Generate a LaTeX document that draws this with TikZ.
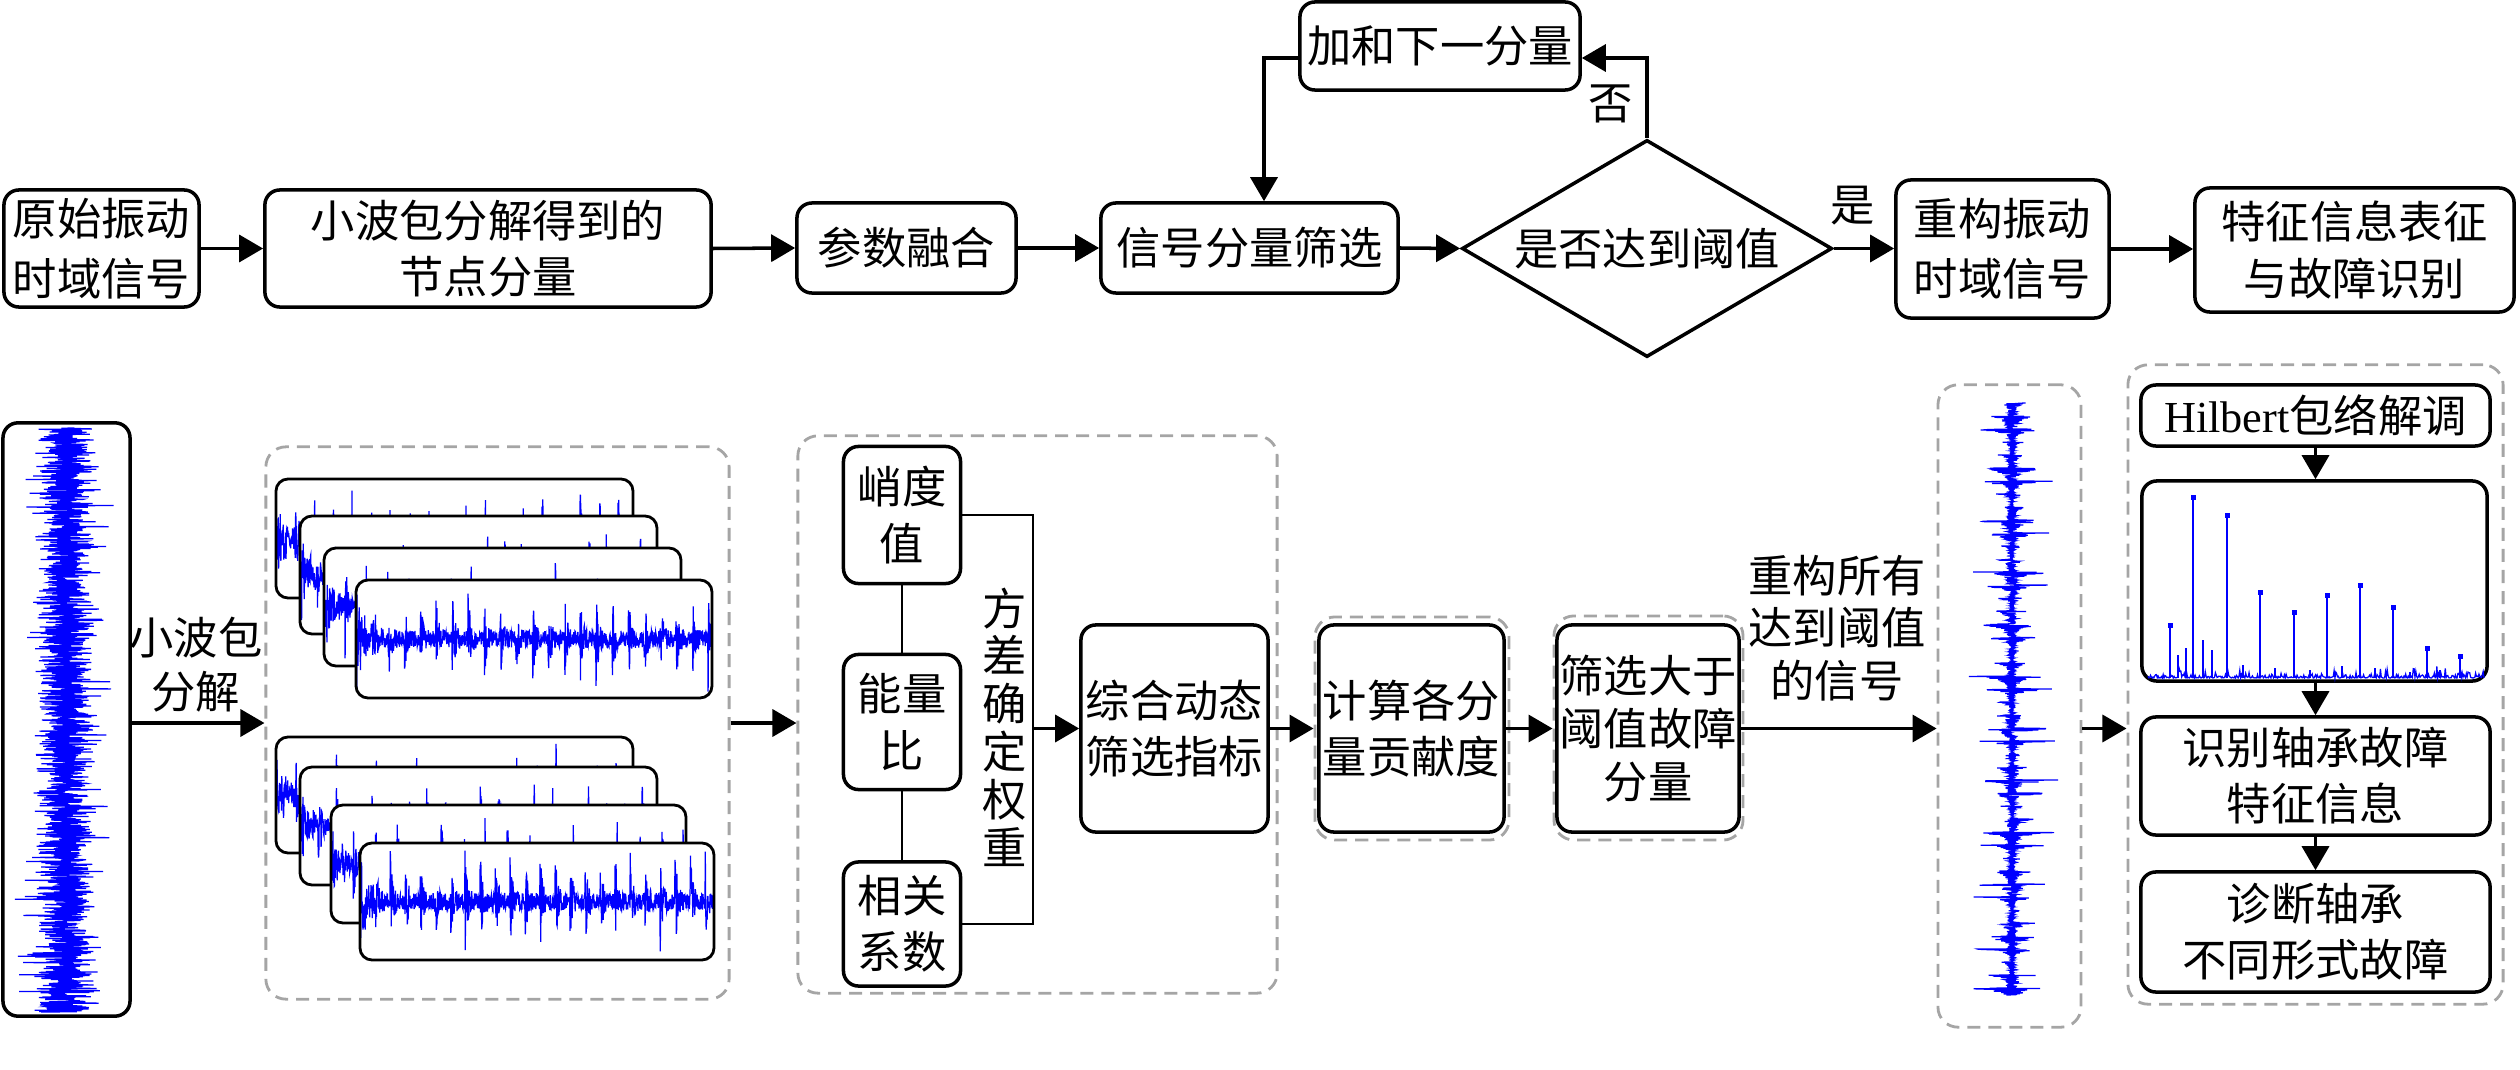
\documentclass[tikz,border=0pt]{standalone}
\usepackage{fontspec}
\setmainfont{Noto Sans CJK SC}
\newfontfamily\latinserif{Liberation Serif}
\usetikzlibrary{arrows.meta,shapes.geometric,calc}
\definecolor{sigblue}{RGB}{0,0,255}
\definecolor{dgray}{RGB}{165,165,165}
\tikzset{
 blk/.style={draw=black, line width=1pt, rounded corners=0.15cm, align=center, inner sep=0pt, font=\fontsize{12.6}{16}\selectfont},
 dbox/.style={draw=dgray, line width=0.8pt, dash pattern=on 0.13cm off 0.08cm, rounded corners=0.2cm, inner sep=0pt},
 arr/.style={line width=1pt, -{Triangle[length=0.24cm,width=0.27cm]}},
 lbl/.style={align=center, inner sep=0pt, font=\fontsize{12.6}{16}\selectfont},
 conn/.style={line width=0.8pt},
 sigline/.style={draw=sigblue, line width=0.35pt},
 panelbd/.style={draw=black, line width=0.8pt, rounded corners=0.12cm},
}
% x1 y1 x2 y2 period amplitude
\newcommand\wavepanel[6]{%
  \fill[white, rounded corners=0.12cm] (#1,#2) rectangle (#3,#4);
  \begin{scope}
    \clip[rounded corners=0.12cm] (#1,#2) rectangle (#3,#4);
    \draw[sigline] plot[domain=#1:#3, samples=1100, variable=\t]
      (\t, {(#2+#4)/2 + #6*rand*(0.17+exp(-mod(\t-#1,#5)/2.2)) + 22*rand*max(0,1-(\t-#1)/30)});
  \end{scope}
  \draw[panelbd] (#1,#2) rectangle (#3,#4);
}
\begin{document}
\begin{tikzpicture}[x=0.01cm, y=-0.01cm]
\useasboundingbox (0,0) rectangle (2520,1070);
\pgfmathsetseed{4242}

% ---------------- top row ----------------
\node[blk, minimum width=1.95cm, minimum height=1.17cm, font=\fontsize{12.6}{17}\selectfont] (b1) at (101.5,248.5) {原始振动\\时域信号};
\node[blk, minimum width=4.46cm, minimum height=1.17cm] (b2) at (488,248.5) {小波包分解得到的\\节点分量};
\node[blk, minimum width=2.19cm, minimum height=0.90cm] (b3) at (906.5,248) {参数融合};
\node[blk, minimum width=2.97cm, minimum height=0.90cm] (b4) at (1249.5,248) {信号分量筛选};
\node[draw=black, line width=1pt, diamond, aspect=1.7, minimum width=3.7cm, minimum height=2.17cm, inner sep=0pt, font=\fontsize{12.6}{16}\selectfont] (dia) at (1647,248.5) {是否达到阈值};
\node[blk, minimum width=2.80cm, minimum height=0.88cm] (jiahe) at (1440,46) {加和下一分量};
\node[blk, minimum width=2.13cm, minimum height=1.38cm, font=\fontsize{12.6}{17}\selectfont] (cg) at (2002.5,249) {重构振动\\时域信号};
\node[blk, minimum width=3.19cm, minimum height=1.24cm] (tz) at (2354.5,250) {特征信息表征\\与故障识别};
\node[lbl] (shi) at (1853,206) {是};
\node[lbl] (fou) at (1611,104) {否};

\draw[arr] (b1.east) -- (b2.west);
\draw[arr] (b2.east) -- (b3.west);
\draw[arr] (b3.east) -- (b4.west);
\draw[arr] (b4.east) -- (dia.west);
\draw[arr] (dia.east) -- (cg.west |- dia.east);
\draw[arr] (cg.east) -- (tz.west |- cg.east);
\coordinate (rp) at (1647,58);
\coordinate (lp) at (1264,58);
\draw[arr] (dia.north) -- (rp) -- (jiahe.east |- rp);
\draw[arr] (jiahe.west |- lp) -- (lp) -- (b4.north -| lp);

% ---------------- bottom row ----------------
\node[dbox, minimum width=4.63cm, minimum height=5.52cm] (grp1) at (497.5,723) {};
\node[dbox, minimum width=4.79cm, minimum height=5.57cm] (grp2) at (1037.5,714.5) {};
\node[dbox, minimum width=1.94cm, minimum height=2.23cm] (grpjs) at (1412,728.5) {};
\node[dbox, minimum width=1.89cm, minimum height=2.24cm] (grpsx) at (1648.5,728) {};
\node[dbox, minimum width=1.43cm, minimum height=6.42cm] (grp3) at (2009.5,706) {};
\node[dbox, minimum width=3.75cm, minimum height=6.39cm] (grp4) at (2315.5,684.5) {};

% original signal
\draw[sigline] plot[domain=428:1012, samples=2600, variable=\t]
  ({66 + 13*(rand+rand+rand) + 44*rand*rand*rand*rand}, \t);
\node[blk, minimum width=1.27cm, minimum height=5.93cm] (sig0) at (66.5,719.5) {};

% wavelet packet panels
\wavepanel{276}{479}{633}{598}{19}{44}
\wavepanel{300}{516}{657}{634}{17}{44}
\wavepanel{324}{548}{681}{666}{21}{44}
\wavepanel{356}{580}{712}{698}{16}{48}
\wavepanel{276}{737}{633}{853}{20}{44}
\wavepanel{300}{767}{657}{885}{18}{44}
\wavepanel{331}{805}{686}{923}{22}{44}
\wavepanel{360}{843}{714}{960}{15}{48}

\node[lbl, font=\fontsize{12.6}{15.3}\selectfont] (xbb) at (196,665) {小波包\\分解};
\draw[arr] (sig0.east |- grp1.west) -- (grp1.west);
\draw[arr] (grp1.east) -- (grp2.west |- grp1.east);

% indices
\node[blk, minimum width=1.17cm, minimum height=1.37cm] (qiao) at (902,515) {峭度\\值};
\node[blk, minimum width=1.17cm, minimum height=1.35cm] (neng) at (902,722) {能量\\比};
\node[blk, minimum width=1.17cm, minimum height=1.24cm] (xiang) at (902,924) {相关\\系数};
\draw[conn] (qiao.south) -- (neng.north);
\draw[conn] (neng.south) -- (xiang.north);
\coordinate (brt) at (1033,515);
\coordinate (brb) at (1033,924);
\draw[conn] (qiao.east) -- (brt) -- (brb) -- (xiang.east);
\node[lbl, font=\fontsize{12.6}{13.6}\selectfont] (fc) at (1005,727) {方\\差\\确\\定\\权\\重};
\node[blk, minimum width=1.87cm, minimum height=2.07cm] (zh) at (1174.5,728.5) {综合动态\\筛选指标};
\draw[arr] (brt |- zh.west) -- (zh.west);

\node[blk, minimum width=1.85cm, minimum height=2.07cm] (js) at (1411.5,728.5) {计算各分\\量贡献度};
\node[blk, minimum width=1.82cm, minimum height=2.07cm, font=\fontsize{12.6}{15}\selectfont] (sx) at (1648,728.5) {筛选大于\\阈值故障\\分量};
\draw[arr] (zh.east) -- (grpjs.west |- zh.east);
\draw[arr] (js.east) -- (grpsx.west |- js.east);
\draw[arr] (sx.east) -- (grp3.west |- sx.east);
\node[lbl, font=\fontsize{12.6}{15}\selectfont] (cgsy) at (1837,628) {重构所有\\达到阈值\\的信号};

% reconstructed signal
\draw[sigline] plot[domain=403:995, samples=2400, variable=\t]
  ({2012 + 50*rand*(0.1 + exp(-mod(\t-403,13)/2.5))*(0.6+0.4*sin(\t*7))}, \t);

\draw[arr] (grp3.east |- zh.east) -- (grp4.west |- zh.east);

% right group
\node[blk, minimum width=3.49cm, minimum height=0.61cm] (hil) at (2315.5,415.5) {{\latinserif Hilbert}包络解调};
\node[blk, minimum width=3.45cm, minimum height=2.00cm] (spec) at (2314.5,581) {};
\draw[sigline] plot[domain=2148:2484, samples=400, variable=\t] (\t, {678 - 14*abs(rand*rand*rand)});
\foreach \px/\py in {2178/655, 2186/648, 2203/640, 2212/650, 2243/665, 2275/668, 2310/670, 2342/666, 2375/668, 2410/672, 2440/670}
  \draw[sigblue, line width=0.3pt] (\px,678) -- (\px,\py);
\foreach \px/\py in {2170/625, 2193/497, 2227/515, 2260/592, 2294/612, 2327/595, 2360/585, 2393/607, 2427/648, 2460/656} {
  \draw[sigblue, line width=0.4pt] (\px,678) -- (\px,\py);
  \fill[sigblue] ({\px-2.5},{\py-2.5}) rectangle ({\px+2.5},{\py+2.5});
}
\node[blk, minimum width=3.49cm, minimum height=1.18cm] (sb) at (2315.5,776) {识别轴承故障\\特征信息};
\node[blk, minimum width=3.49cm, minimum height=1.20cm] (zd) at (2315.5,932) {诊断轴承\\不同形式故障};
\draw[arr] (hil.south) -- (spec.north -| hil.south);
\draw[arr] (spec.south -| hil.south) -- (sb.north);
\draw[arr] (sb.south) -- (zd.north);
\end{tikzpicture}
\end{document}
